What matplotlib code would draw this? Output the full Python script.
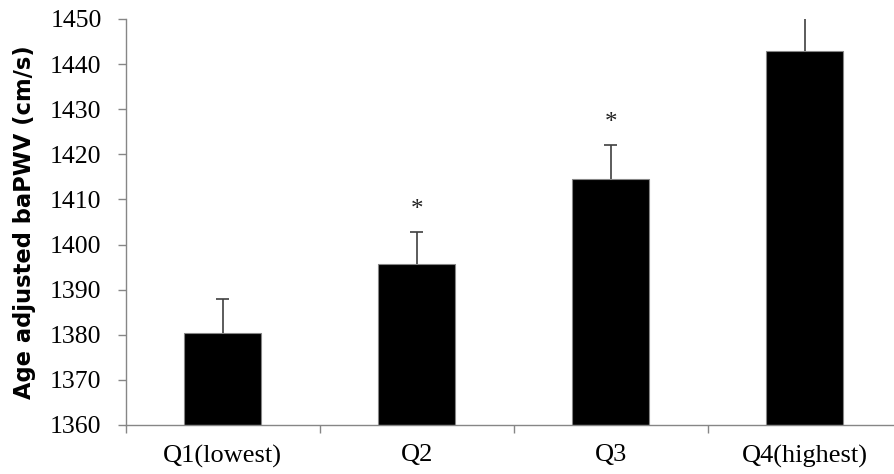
import matplotlib
matplotlib.use("Agg")
import matplotlib.pyplot as plt

categories = ["Q1(lowest)", "Q2", "Q3", "Q4(highest)"]
values = [1380.5, 1395.6, 1414.6, 1442.9]
errors = [7.4, 7.2, 7.5, 7.6]
significant = [False, True, True, True]
yticks = [1360, 1370, 1380, 1390, 1400, 1410, 1420, 1430, 1440, 1450]

plt.rcParams["font.family"] = ["Liberation Serif", "DejaVu Serif"]

W, H = 895, 474
fig = plt.figure(figsize=(W / 100, H / 100), dpi=100)
left, right = 125.6, 125.6 + 776
top, bottom = 19, 425
ax = fig.add_axes([left / W, 1 - bottom / H, (right - left) / W, (bottom - top) / H])

x = list(range(len(categories)))
axis_col = "#868686"
err_col = "#404040"
ax.bar(x, [v - 1360 for v in values], bottom=1360, width=0.40, color="black",
       edgecolor=axis_col, linewidth=0.8, zorder=2)
tops = [v + e for v, e in zip(values, errors)]
ax.vlines(x, values, tops, colors=err_col, linewidth=1.2, zorder=3)
cap_half = 0.034
ax.hlines(tops, [xi - cap_half for xi in x], [xi + cap_half for xi in x],
          colors=err_col, linewidth=1.2, zorder=3)

for xi, t, s in zip(x, tops, significant):
    if s:
        ax.text(xi, t + 4.8, "*", ha="center", va="center", fontsize=18,
                color="#222222", clip_on=False)

ax.set_xlim(-0.5, len(categories) - 0.5)
ax.set_ylim(1360, 1450)
ax.set_yticks(yticks)
ax.set_yticklabels([str(t) for t in yticks], fontsize=18.5)
ax.set_xticks(x)
ax.set_xticklabels(categories, fontsize=19)
ax.set_xticks([i - 0.5 for i in range(len(categories) + 1)], minor=True)
ax.tick_params(axis="x", which="major", length=0, pad=14)
ax.tick_params(axis="x", which="minor", length=5.8, width=1, color=axis_col, direction="out")
ax.tick_params(axis="y", length=5.8, width=1, color=axis_col, direction="out", pad=11.5)

for side in ["top", "right"]:
    ax.spines[side].set_visible(False)
for side in ["left", "bottom"]:
    ax.spines[side].set_color(axis_col)
    ax.spines[side].set_linewidth(1)

ax.set_ylabel("Age adjusted baPWV (cm/s)", family="DejaVu Sans", fontweight="bold",
              fontsize=16.3)
ax.yaxis.set_label_coords(-(left - 24) / (right - left), 0.5)
ax.yaxis.label.set_verticalalignment("center")

fig.savefig("out.png", dpi=100)
